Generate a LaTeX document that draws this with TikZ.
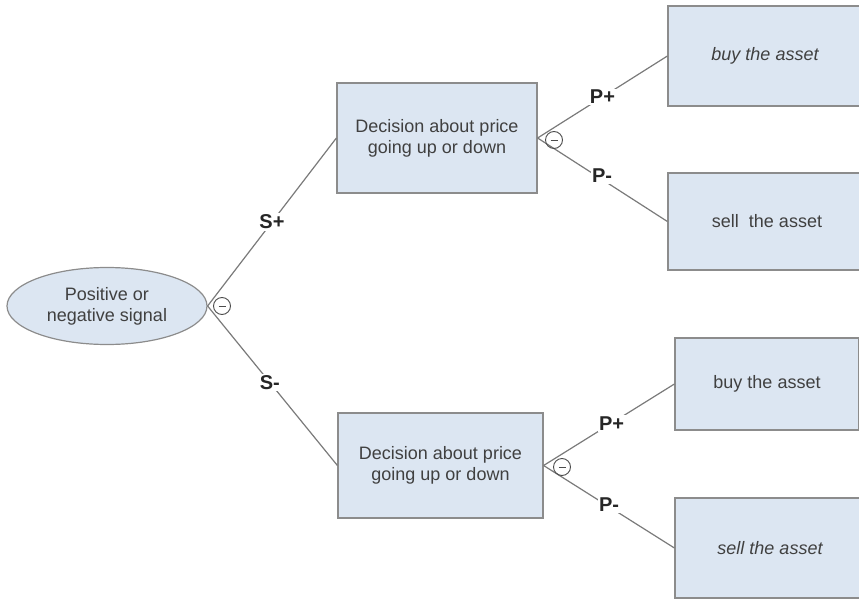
\documentclass[tikz,border=0pt]{standalone}
\usepackage{fontspec}
\setmainfont{Liberation Sans}
\usetikzlibrary{shapes.geometric}
\definecolor{boxfill}{HTML}{DCE6F2}
\definecolor{boxdraw}{HTML}{8C8C8C}
\definecolor{txt}{HTML}{404040}
\definecolor{linec}{HTML}{7A7A7A}
\begin{document}
\begin{tikzpicture}[x=1pt,y=-1pt,
  box/.style={draw=boxdraw,fill=boxfill,line width=1.2pt,text=txt,align=center,
    font=\fontsize{18}{21}\selectfont,inner sep=0pt},
  oval/.style={box,ellipse},
  conn/.style={draw=linec,line width=1.2pt},
  lbl/.style={fill=white,inner sep=1.5pt,font=\fontsize{20}{22}\selectfont\bfseries,text=black!85},
  minus/.style={circle,draw=black!70,line width=0.9pt,minimum size=17pt,inner sep=0pt,
    path picture={\draw[black!70,line width=0.9pt] ([xshift=-3.5pt]path picture bounding box.center) -- ([xshift=3.5pt]path picture bounding box.center);}}]
\useasboundingbox (0,0) rectangle (859,599);
\clip (0,0) rectangle (859,599);
\node[oval,minimum width=200pt,minimum height=77pt] (sig) at (107,306) {Positive or\\negative signal};
\node[box,minimum width=200pt,minimum height=110pt] (d1) at (437,138) {Decision about price\\going up or down};
\node[box,minimum width=205pt,minimum height=105pt] (d2) at (440.5,465.5) {Decision about price\\going up or down};
\node[box,minimum width=194pt,minimum height=100pt] (b1) at (765,56) {\itshape buy the asset};
\node[box,minimum width=198pt,minimum height=97pt] (s1) at (767,221.5) {sell\ \ the asset};
\node[box,minimum width=184pt,minimum height=92pt] (b2) at (767,384) {buy the asset};
\node[box,minimum width=190pt,minimum height=100pt] (s2) at (770,548) {\itshape sell the asset};
\draw[conn] (sig.east) -- node[lbl,pos=0.5] (sp) {S+} (d1.west);
\draw[conn] (sig.east) -- node[lbl,pos=0.48] (sm) {S-} (d2.west);
\draw[conn] (d1.east) -- node[lbl,pos=0.5] (p1) {P+} (b1.west);
\draw[conn] (d1.east) -- node[lbl,pos=0.45,xshift=6pt] (m1) {P-} (s1.west);
\draw[conn] (d2.east) -- node[lbl,pos=0.52] (p2) {P+} (b2.west);
\draw[conn] (d2.east) -- node[lbl,pos=0.47,xshift=4pt] (m2) {P-} (s2.west);
\node[minus] (c0) at (222,306) {};
\node[minus] (c1) at (554,140) {};
\node[minus] (c2) at (562,467) {};
\end{tikzpicture}
\end{document}
